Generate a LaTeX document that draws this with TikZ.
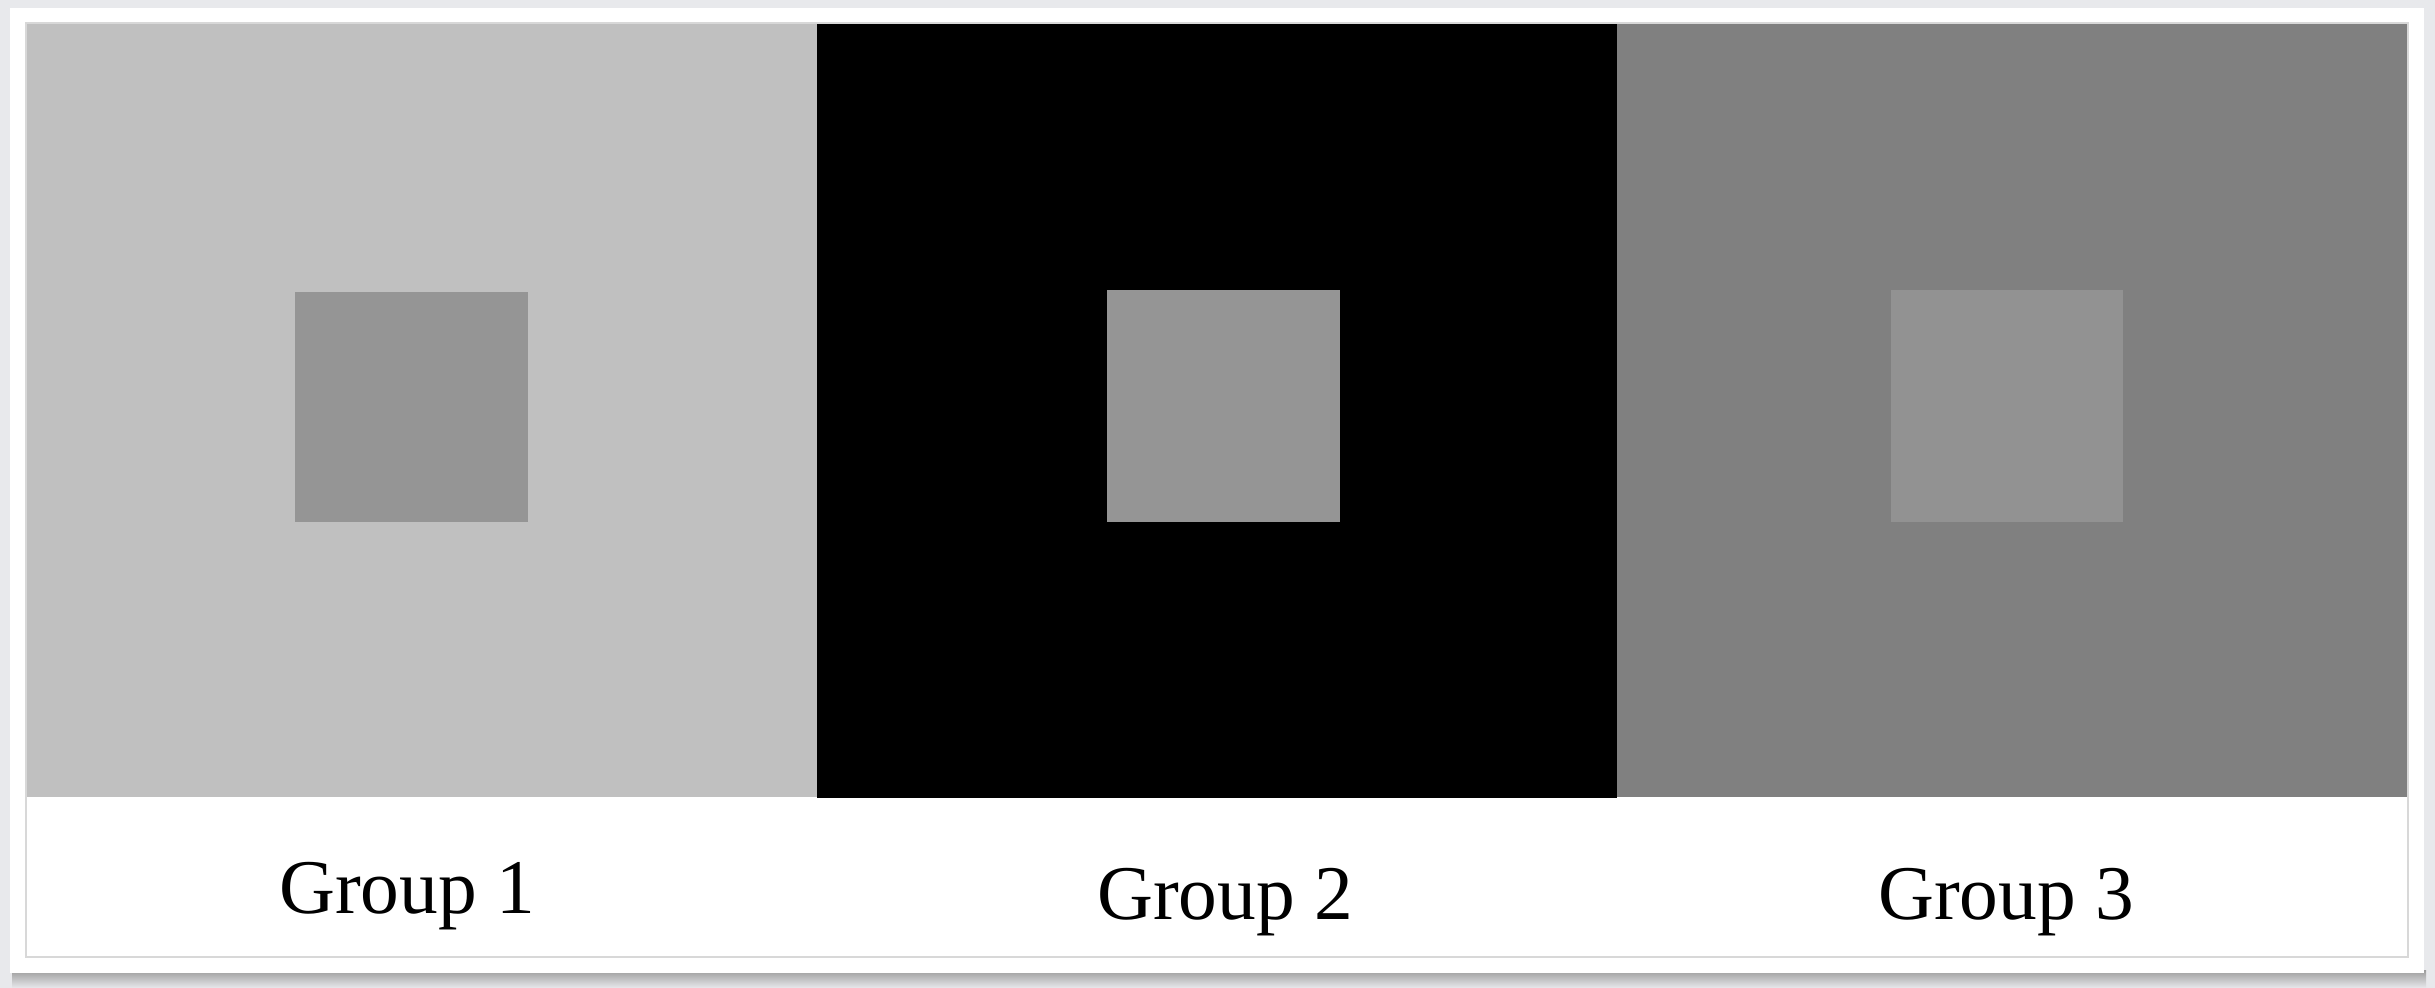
\documentclass[tikz,border=0pt]{standalone}
\usepackage{fontspec}
\setmainfont{Liberation Serif}

\definecolor{pagegray}{HTML}{E8E9EC}
\definecolor{shadowgray}{HTML}{9C9C9C}
\definecolor{lightfield}{HTML}{C0C0C0}
\definecolor{midfield}{HTML}{808080}
\definecolor{patchgray}{HTML}{959595}
\definecolor{edgegray}{HTML}{D8D8D8}

\begin{document}
\begin{tikzpicture}[x=0.01cm,y=-0.01cm]

\tikzset{
  field/.style={draw=none},
  patch/.style={fill=patchgray, draw=none},
  group label/.style={
    anchor=base,
    inner sep=0pt,
    font=\fontsize{22pt}{26pt}\selectfont,
  }
}

\useasboundingbox (0,0) rectangle (2435,988);

% Page and frame
\fill[pagegray] (0,0) rectangle (2435,988);
\shade[top color=shadowgray, bottom color=pagegray] (12,970) rectangle (2426,988);
\fill[white] (10,8) rectangle (2424,973);
\draw[edgegray, line width=0.4pt] (26,23) rectangle (2408,957);

% Backgrounds
\fill[field, fill=lightfield] (27,24) rectangle (817,797);
\fill[field, fill=black] (817,24) rectangle (1617,798);
\fill[field, fill=midfield] (1617,24) rectangle (2407,797);

% Centre squares
\fill[patch] (295,292) rectangle (528,522);
\fill[patch] (1107,290) rectangle (1340,522);
\fill[patch, fill=patchgray!98!black] (1891,290) rectangle (2123,522);

% Labels
\node[group label] (g1) at (407,913) {Group 1};
\node[group label] (g2) at (1225,919) {Group 2};
\node[group label] (g3) at (2006,919) {Group 3};

\end{tikzpicture}
\end{document}
